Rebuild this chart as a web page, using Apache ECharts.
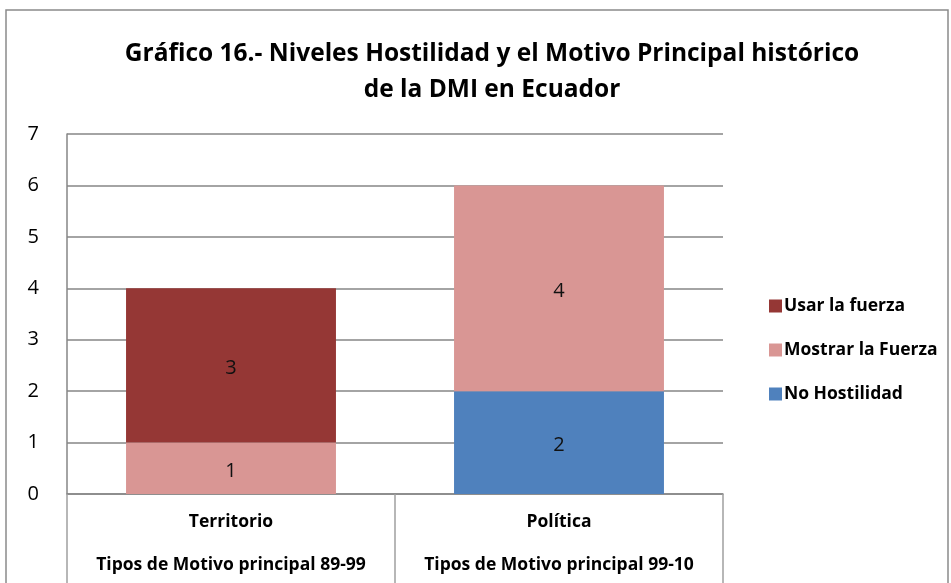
<!DOCTYPE html>
<html><head><meta charset="utf-8">
<script src="https://cdn.jsdelivr.net/npm/echarts@6/dist/echarts.min.js"></script>
<style>html,body{margin:0;padding:0;background:#fff}#c{width:951px;height:583px}</style>
</head><body><div id="c"></div>
<script>
const categories = ['Territorio', 'Política'];
const periods = ['Tipos de Motivo principal 89-99', 'Tipos de Motivo principal 99-10'];
const noHostilidad = [0, 2];
const mostrarFuerza = [1, 4];
const usarFuerza = [3, 0];
const yTicks = [0, 1, 2, 3, 4, 5, 6, 7];

const FONT = '"Open Sans", "Liberation Sans", sans-serif';
const chart = echarts.init(document.getElementById('c'));
const lbl = {show: true, position: 'inside', offset: [0, 3], fontSize: 20, color: '#111', fontFamily: FONT,
  formatter: p => p.value === 0 ? '' : p.value};
chart.setOption({
  animation: false,
  title: {
    text: 'Gráfico 16.- Niveles Hostilidad y el Motivo Principal histórico\nde la DMI en Ecuador',
    left: 487, top: 31, textAlign: 'center',
    textStyle: {fontSize: 24.5, fontWeight: 'bold', fontFamily: FONT, color: '#000', lineHeight: 36}
  },
  graphic: [{type: 'rect', shape: {x: 6, y: 10, width: 942, height: 600},
    style: {fill: 'none', stroke: '#8a8a8a', lineWidth: 1.5}, silent: true}],
  legend: {
    orient: 'vertical', left: 764, top: 292, itemGap: 26, itemWidth: 13, itemHeight: 13,
    icon: 'rect',
    data: ['Usar la fuerza', 'Mostrar la Fuerza', 'No Hostilidad'],
    textStyle: {fontSize: 17.5, fontWeight: 'bold', fontFamily: FONT, color: '#000', padding: [0, 0, 0, -3]}
  },
  grid: {left: 67, right: 228, top: 134, bottom: 89},
  xAxis: [{
    type: 'category', data: categories, position: 'bottom',
    axisLine: {lineStyle: {color: '#868686', width: 1.5}},
    axisTick: {show: true, length: 92, lineStyle: {color: '#a0a0a0', width: 1.5}},
    axisLabel: {interval: 0, hideOverlap: false, fontSize: 17.5, fontWeight: 'bold', fontFamily: FONT, color: '#000', margin: 19}
  }, {
    type: 'category', data: periods, position: 'bottom', offset: 43,
    axisLine: {show: false}, axisTick: {show: false},
    axisLabel: {interval: 0, hideOverlap: false, fontSize: 17.5, fontWeight: 'bold', fontFamily: FONT, color: '#000', margin: 19}
  }],
  yAxis: {
    type: 'value', min: 0, max: 7, interval: 1,
    axisLine: {show: true, lineStyle: {color: '#868686', width: 1.5}},
    axisTick: {show: false},
    splitLine: {lineStyle: {color: '#868686', width: 1.5}},
    axisLabel: {fontSize: 20, fontFamily: FONT, color: '#000', margin: 28,
      formatter: v => yTicks.includes(v) ? String(v) : ''}
  },
  series: [
    {name: 'No Hostilidad', type: 'bar', stack: 's', data: noHostilidad, barWidth: '64%',
     itemStyle: {color: '#4F81BD'}, label: lbl},
    {name: 'Mostrar la Fuerza', type: 'bar', stack: 's', data: mostrarFuerza,
     itemStyle: {color: '#D99694'}, label: lbl},
    {name: 'Usar la fuerza', type: 'bar', stack: 's', data: usarFuerza,
     itemStyle: {color: '#953735'}, label: lbl}
  ]
});
</script></body></html>
